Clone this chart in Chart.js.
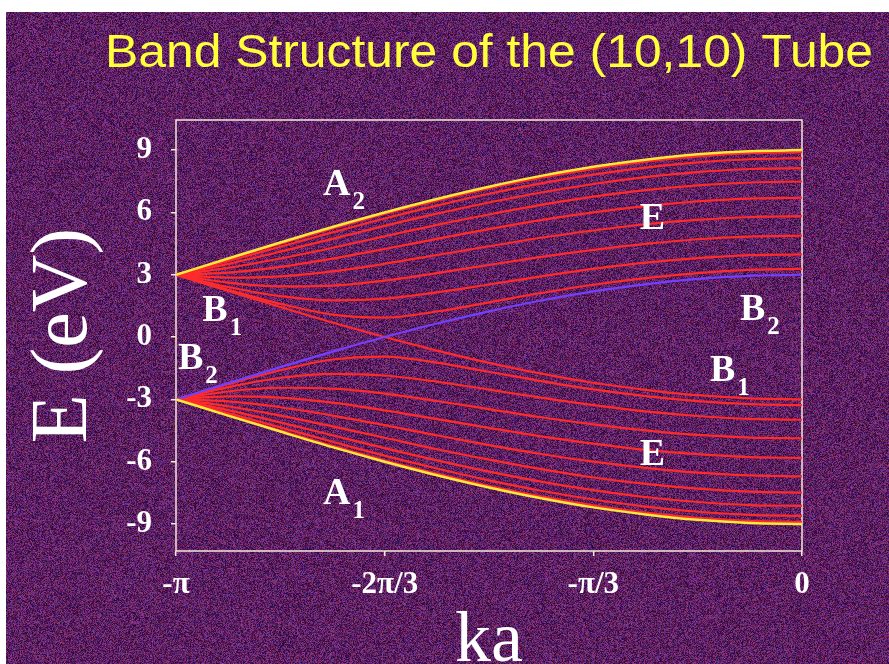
<!DOCTYPE html>
<html>
<head>
<meta charset="utf-8">
<script src="https://cdn.jsdelivr.net/npm/chart.js@4"></script>
<style>
  html, body { margin: 0; padding: 0; background: #5a2464; }
  #wrap { width: 889px; height: 664px; }
</style>
</head>
<body>
<div id="wrap"><canvas id="bands" width="889" height="664"></canvas></div>
<script>
// ka in units of pi
const kaOverPi = [-1, -0.9167, -0.8333, -0.75, -0.6667, -0.5833, -0.5, -0.4167, -0.3333, -0.25, -0.1667, -0.0833, 0];

// conduction side
const bandA2 = [3, 3.78, 4.55, 5.30, 6.00, 6.65, 7.24, 7.76, 8.20, 8.54, 8.80, 8.95, 9.00];
const bandEUp1 = [3, 3.75, 4.50, 5.23, 5.93, 6.57, 7.16, 7.67, 8.10, 8.45, 8.70, 8.85, 8.90];
const bandEUp2 = [3, 3.66, 4.35, 5.04, 5.71, 6.33, 6.90, 7.40, 7.82, 8.16, 8.41, 8.56, 8.61];
const bandEUp3 = [3, 3.52, 4.11, 4.73, 5.35, 5.94, 6.48, 6.96, 7.37, 7.70, 7.94, 8.09, 8.13];
const bandEUp4 = [3, 3.33, 3.78, 4.30, 4.85, 5.40, 5.90, 6.36, 6.76, 7.07, 7.30, 7.44, 7.49];
const bandEUp5 = [3, 3.10, 3.38, 3.78, 4.24, 4.73, 5.20, 5.63, 6.00, 6.30, 6.53, 6.66, 6.71];
const bandEUp6 = [3, 2.86, 2.92, 3.16, 3.53, 3.95, 4.37, 4.78, 5.13, 5.43, 5.64, 5.78, 5.82];
const bandEUp7 = [3, 2.62, 2.44, 2.48, 2.72, 3.08, 3.47, 3.86, 4.20, 4.49, 4.71, 4.84, 4.88];
const bandEUp8 = [3, 2.41, 1.97, 1.77, 1.85, 2.15, 2.53, 2.92, 3.28, 3.58, 3.80, 3.94, 3.98];
const bandEUp9 = [3, 2.27, 1.60, 1.08, 0.94, 1.23, 1.67, 2.12, 2.52, 2.84, 3.08, 3.23, 3.28];

// the two crossing bands
const bandB1 = [3, 2.22, 1.45, 0.70, 0, -0.65, -1.24, -1.76, -2.20, -2.54, -2.80, -2.95, -3];
const bandB2 = [-3, -2.22, -1.45, -0.70, 0, 0.65, 1.24, 1.76, 2.20, 2.54, 2.80, 2.95, 3];

// valence side
const bandA1 = [-3, -3.78, -4.55, -5.30, -6.00, -6.65, -7.24, -7.76, -8.20, -8.54, -8.80, -8.95, -9.00];
const bandEDn1 = [-3, -3.75, -4.50, -5.23, -5.93, -6.57, -7.16, -7.67, -8.10, -8.45, -8.70, -8.85, -8.90];
const bandEDn2 = [-3, -3.66, -4.35, -5.04, -5.71, -6.33, -6.90, -7.40, -7.82, -8.16, -8.41, -8.56, -8.61];
const bandEDn3 = [-3, -3.52, -4.11, -4.73, -5.35, -5.94, -6.48, -6.96, -7.37, -7.70, -7.94, -8.09, -8.13];
const bandEDn4 = [-3, -3.33, -3.78, -4.30, -4.85, -5.40, -5.90, -6.36, -6.76, -7.07, -7.30, -7.44, -7.49];
const bandEDn5 = [-3, -3.10, -3.38, -3.78, -4.24, -4.73, -5.20, -5.63, -6.00, -6.30, -6.53, -6.66, -6.71];
const bandEDn6 = [-3, -2.86, -2.92, -3.16, -3.53, -3.95, -4.37, -4.78, -5.13, -5.43, -5.64, -5.78, -5.82];
const bandEDn7 = [-3, -2.62, -2.44, -2.48, -2.72, -3.08, -3.47, -3.86, -4.20, -4.49, -4.71, -4.84, -4.88];
const bandEDn8 = [-3, -2.41, -1.97, -1.77, -1.85, -2.15, -2.53, -2.92, -3.28, -3.58, -3.80, -3.94, -3.98];
const bandEDn9 = [-3, -2.27, -1.60, -1.08, -0.94, -1.23, -1.67, -2.12, -2.52, -2.84, -3.08, -3.23, -3.28];

const xTickValues = [-1, -2 / 3, -1 / 3, 0];
const xTickLabels = ['-\u03c0', '-2\u03c0/3', '-\u03c0/3', '0'];
const yTickValues = [-9, -6, -3, 0, 3, 6, 9];

// band labels: main letter, subscript, position in data units
const bandLabels = [
  { main: 'A', sub: '2', x: -0.765, y: 6.85 },
  { main: 'B', sub: '1', x: -0.958, y: 0.78 },
  { main: 'B', sub: '2', x: -0.997, y: -1.52 },
  { main: 'A', sub: '1', x: -0.765, y: -8.02 },
  { main: 'E', sub: '', x: -0.259, y: 5.21 },
  { main: 'B', sub: '2', x: -0.099, y: 0.83 },
  { main: 'B', sub: '1', x: -0.147, y: -2.10 },
  { main: 'E', sub: '', x: -0.259, y: -6.14 }
];

const RED = '#ff2b2b';
const YELLOW = '#ffe83c';
const BLUE = '#7440ff';
const SERIF = '"Liberation Serif", "Times New Roman", serif';

function series(vals, color, width) {
  return {
    data: kaOverPi.map((k, i) => ({ x: k, y: vals[i] })),
    borderColor: color,
    borderWidth: width,
    pointRadius: 0,
    fill: false,
    cubicInterpolationMode: 'monotone'
  };
}

// first dataset is painted last, so the outer yellow bands go first
const datasets = [
  series(bandA2, YELLOW, 2.5),
  series(bandA1, YELLOW, 2.5),
  series(bandB2, BLUE, 2.2),
  series(bandB1, RED, 2.2)
];
[bandEUp1, bandEUp2, bandEUp3, bandEUp4, bandEUp5, bandEUp6, bandEUp7, bandEUp8, bandEUp9,
 bandEDn1, bandEDn2, bandEDn3, bandEDn4, bandEDn5, bandEDn6, bandEDn7, bandEDn8, bandEDn9]
  .forEach(b => datasets.push(series(b, RED, 2.2)));

// grainy purple slide background
const slideBackground = {
  id: 'slideBackground',
  beforeDraw(chart) {
    const { ctx, width, height } = chart;
    const img = ctx.createImageData(width, height);
    let s = 987654321;
    const rnd = () => { s ^= s << 13; s ^= s >>> 17; s ^= s << 5; return (s >>> 0) / 4294967296; };
    for (let i = 0; i < width * height; i++) {
      const lum = (rnd() - 0.5) * 2;
      const p = i * 4;
      img.data[p] = 92 + lum * 38 + (rnd() - 0.5) * 64;
      img.data[p + 1] = 32 + lum * 28 + (rnd() - 0.5) * 20;
      img.data[p + 2] = 98 + lum * 38 + (rnd() - 0.5) * 64;
      img.data[p + 3] = 255;
    }
    ctx.putImageData(img, 0, 0);
    ctx.save();
    ctx.fillStyle = '#ffffff';
    ctx.fillRect(0, 0, width, 12);
    ctx.fillRect(0, 0, 6, height);
    ctx.restore();
  },
  beforeDatasetsDraw(chart) {
    const { ctx, chartArea: a } = chart;
    ctx.save();
    ctx.strokeStyle = '#f4e8dc';
    ctx.lineWidth = 1.5;
    ctx.strokeRect(a.left, a.top, a.right - a.left, a.bottom - a.top);
    ctx.restore();
  }
};

// slide title, stretched to the slide width like the original
const slideTitle = {
  id: 'slideTitle',
  afterDraw(chart) {
    const { ctx } = chart;
    const text = 'Band Structure of the (10,10) Tube';
    ctx.save();
    ctx.font = '46px "Liberation Sans", Arial, sans-serif';
    const w = ctx.measureText(text).width;
    ctx.translate(105, 67);
    ctx.scale(768 / w, 1);
    ctx.fillStyle = '#ffff3c';
    ctx.textBaseline = 'alphabetic';
    ctx.fillText(text, 0, 0);
    ctx.restore();
  }
};

const bandLetters = {
  id: 'bandLetters',
  afterDatasetsDraw(chart) {
    const { ctx, scales: { x, y } } = chart;
    ctx.save();
    ctx.fillStyle = '#ffffff';
    ctx.textBaseline = 'alphabetic';
    bandLabels.forEach(l => {
      const px = x.getPixelForValue(l.x);
      const py = y.getPixelForValue(l.y);
      ctx.font = 'bold 38px ' + SERIF;
      ctx.fillText(l.main, px, py);
      if (l.sub) {
        const w = ctx.measureText(l.main).width;
        ctx.font = 'bold 25px ' + SERIF;
        ctx.fillText(l.sub, px + w + 2, py + 14);
      }
    });
    ctx.restore();
  }
};

new Chart(document.getElementById('bands'), {
  type: 'line',
  data: { datasets },
  plugins: [slideBackground, slideTitle, bandLetters],
  options: {
    responsive: false,
    animation: false,
    layout: { padding: { top: 120, right: 87, left: 0, bottom: 0 } },
    plugins: { legend: { display: false }, tooltip: { enabled: false } },
    scales: {
      x: {
        type: 'linear',
        min: -1,
        max: 0,
        afterBuildTicks: s => { s.ticks = xTickValues.map(v => ({ value: v })); },
        afterFit: s => { s.height = 113; },
        border: { display: false },
        grid: { drawOnChartArea: false, color: '#f4e8dc', tickLength: 5, lineWidth: 1.5 },
        ticks: {
          color: '#ffffff',
          padding: 10,
          maxRotation: 0,
          font: { family: SERIF, size: 31, weight: 'bold' },
          callback: (v, i) => xTickLabels[i]
        },
        title: {
          display: true,
          text: 'ka',
          color: '#ffffff',
          padding: { top: 0, bottom: 0 },
          font: { family: SERIF, size: 72, lineHeight: 0.6 }
        }
      },
      y: {
        min: -10.3,
        max: 10.45,
        afterBuildTicks: s => { s.ticks = yTickValues.map(v => ({ value: v })); },
        afterFit: s => { s.width = 176; },
        border: { display: false },
        grid: { drawOnChartArea: false, color: '#f4e8dc', tickLength: 5, lineWidth: 1.5 },
        ticks: {
          color: '#ffffff',
          padding: 19,
          font: { family: SERIF, size: 31, weight: 'bold' }
        },
        title: {
          display: true,
          text: 'E (eV)',
          color: '#ffffff',
          padding: { top: 17, bottom: 0 },
          font: { family: SERIF, size: 80 }
        }
      }
    }
  }
});
</script>
</body>
</html>
